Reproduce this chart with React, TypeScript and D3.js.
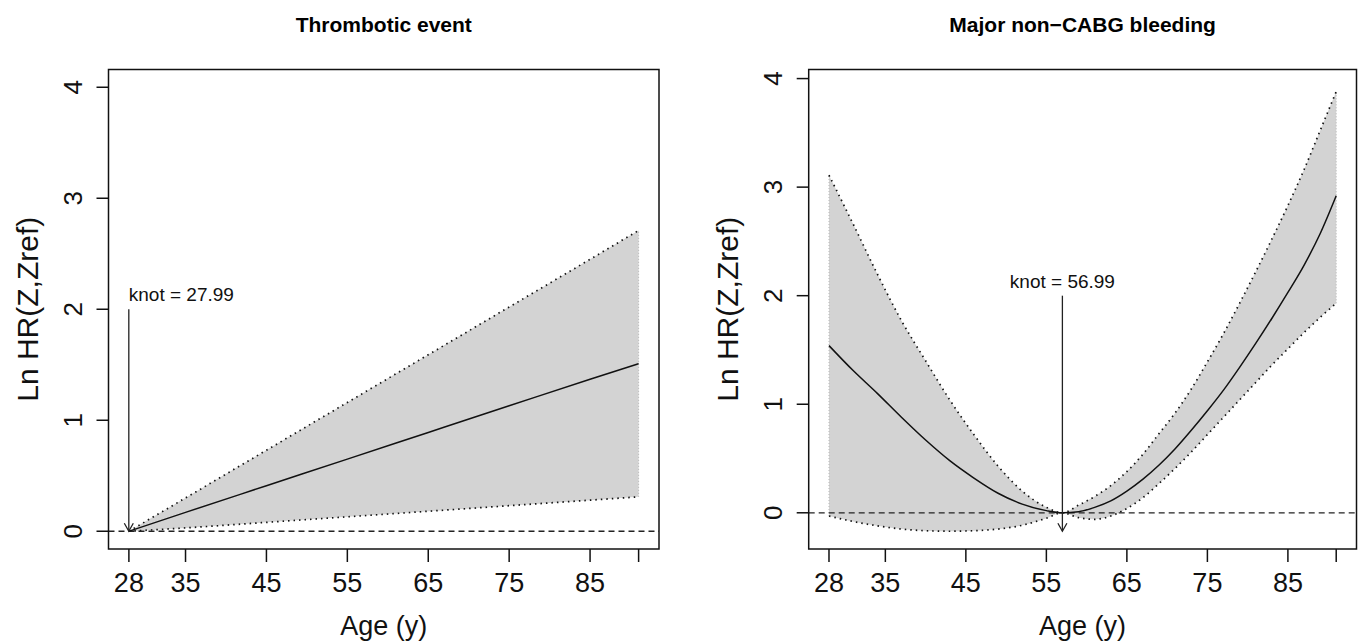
import React from 'react'
import * as d3 from 'd3'

// ---- data ----
const panelTitles = ['Thrombotic event', 'Major non\u2212CABG bleeding']
const knots = [27.99, 56.99]
const yLimits: Array<[number, number]> = [
  [0, 4],
  [-0.17, 3.92],
]

const xTicks = [28, 35, 45, 55, 65, 75, 85, 91]
const xTickLabels = ['28', '35', '45', '55', '65', '75', '85', '']
const yTicks = [0, 1, 2, 3, 4]
const yTickLabels = ['0', '1', '2', '3', '4']

// thrombotic event (linear spline)
const thrombAge = [28, 35, 45, 55, 65, 75, 85, 91]
const thrombMean = [0, 0.17, 0.41, 0.65, 0.89, 1.13, 1.37, 1.51]
const thrombUpper = [0, 0.3, 0.73, 1.16, 1.59, 2.02, 2.45, 2.71]
const thrombLower = [0, 0.03, 0.08, 0.13, 0.18, 0.23, 0.28, 0.31]

// major non-CABG bleeding
const bleedAge = [28, 31, 34, 37, 40, 43, 46, 49, 52, 55, 57, 59, 61, 63, 65, 67, 69, 71, 73, 75, 77, 79, 81, 83, 85, 87, 89, 91]
const bleedMean = [1.54, 1.31, 1.1, 0.88, 0.67, 0.48, 0.32, 0.18, 0.08, 0.02, 0, 0.01, 0.05, 0.11, 0.2, 0.31, 0.44, 0.59, 0.76, 0.94, 1.13, 1.34, 1.56, 1.79, 2.03, 2.28, 2.57, 2.92]
const bleedUpper = [3.11, 2.66, 2.2, 1.77, 1.4, 1.04, 0.72, 0.43, 0.2, 0.05, 0, 0.07, 0.15, 0.25, 0.38, 0.54, 0.73, 0.92, 1.14, 1.39, 1.65, 1.93, 2.22, 2.52, 2.83, 3.16, 3.52, 3.88]
const bleedLower = [-0.03, -0.08, -0.12, -0.15, -0.165, -0.17, -0.165, -0.15, -0.115, -0.05, 0, -0.045, -0.06, -0.03, 0.04, 0.14, 0.27, 0.41, 0.56, 0.72, 0.88, 1.04, 1.2, 1.36, 1.51, 1.66, 1.8, 1.93]

const panels = [
  { age: thrombAge, mean: thrombMean, upper: thrombUpper, lower: thrombLower },
  { age: bleedAge, mean: bleedMean, upper: bleedUpper, lower: bleedLower },
]

// ---- layout ----
const W = 1359
const H = 642
const boxes = [
  { x0: 108.5, x1: 659 },
  { x0: 808.7, x1: 1356.5 },
]
const boxTop = 69.5
const boxBottom = 549
const FONT = 'Liberation Sans, Arial, Helvetica, sans-serif'

const pad = (lo: number, hi: number): [number, number] => {
  const r = hi - lo
  return [lo - 0.04 * r, hi + 0.04 * r]
}

const Panel: React.FC<{ i: number }> = ({ i }) => {
  const p = panels[i]
  const { x0, x1 } = boxes[i]
  const ageExt = d3.extent(p.age) as [number, number]
  const x = d3.scaleLinear().domain(pad(ageExt[0], ageExt[1])).range([x0, x1])
  const [ylo, yhi] = yLimits[i]
  const y = d3.scaleLinear().domain(pad(ylo, yhi)).range([boxBottom, boxTop])

  const idx = p.age.map((_, k) => k)
  const curve = d3.curveMonotoneX
  const area = d3
    .area<number>()
    .x((k) => x(p.age[k]))
    .y0((k) => y(p.lower[k]))
    .y1((k) => y(p.upper[k]))
    .curve(curve)
  const lineOf = (vals: number[]) =>
    d3
      .line<number>()
      .x((k) => x(p.age[k]))
      .y((k) => y(vals[k]))
      .curve(curve)(idx) as string

  const first = 0
  const last = p.age.length - 1
  const cx = (x0 + x1) / 2
  const cy = (boxTop + boxBottom) / 2

  const kx = x(knots[i])
  const kTop = y(2)
  const kBottom = y(ylo)
  const knotLabel = `knot = ${knots[i].toFixed(2)}`
  const knotAnchor = kx - 53 < x0 ? 'start' : 'middle'

  return (
    <g>
      <text x={cx} y={32} textAnchor="middle" fontFamily={FONT} fontWeight="bold" fontSize={21}>
        {panelTitles[i]}
      </text>

      <defs>
        <clipPath id={`clip-${i}`}>
          <rect x={x0} y={boxTop} width={x1 - x0} height={boxBottom - boxTop} />
        </clipPath>
      </defs>

      <g clipPath={`url(#clip-${i})`}>
        <path d={area(idx) as string} fill="#d3d3d3" stroke="none" />
        {/* polygon side edges */}
        {[first, last].map((k) => (
          <line
            key={k}
            x1={x(p.age[k])}
            x2={x(p.age[k])}
            y1={y(p.lower[k])}
            y2={y(p.upper[k])}
            stroke="#b5b5b5"
            strokeWidth={1}
            strokeDasharray="1 2"
          />
        ))}
        <path d={lineOf(p.upper)} fill="none" stroke="#111" strokeWidth={1.7} strokeDasharray="1.5 4" />
        <path d={lineOf(p.lower)} fill="none" stroke="#111" strokeWidth={1.7} strokeDasharray="1.5 4" />
        <line x1={x0} x2={x1} y1={y(0)} y2={y(0)} stroke="#222" strokeWidth={1.3} strokeDasharray="6 4" />
        <path d={lineOf(p.mean)} fill="none" stroke="#111" strokeWidth={1.5} />
      </g>

      {/* knot arrow */}
      <line x1={kx} x2={kx} y1={kTop} y2={kBottom} stroke="#222" strokeWidth={1.3} />
      <path
        d={`M${kx - 4.5},${kBottom - 8}L${kx},${kBottom}L${kx + 4.5},${kBottom - 8}`}
        fill="none"
        stroke="#222"
        strokeWidth={1.3}
      />
      <text x={kx} y={kTop - 8} textAnchor={knotAnchor} fontFamily={FONT} fontSize={19} fill="#111">
        {knotLabel}
      </text>

      {/* box */}
      <rect x={x0} y={boxTop} width={x1 - x0} height={boxBottom - boxTop} fill="none" stroke="#111" strokeWidth={1.5} />

      {/* x axis */}
      {xTicks.map((t, k) => (
        <g key={t}>
          <line x1={x(t)} x2={x(t)} y1={boxBottom} y2={boxBottom + 13} stroke="#111" strokeWidth={1.5} />
          <text x={x(t)} y={592} textAnchor="middle" fontFamily={FONT} fontSize={27} fill="#111">
            {xTickLabels[k]}
          </text>
        </g>
      ))}
      <text x={cx} y={635} textAnchor="middle" fontFamily={FONT} fontSize={27} fill="#111">
        Age (y)
      </text>

      {/* y axis */}
      {yTicks.map((t, k) => (
        <g key={t}>
          <line x1={x0 - 12} x2={x0} y1={y(t)} y2={y(t)} stroke="#111" strokeWidth={1.5} />
          <text
            transform={`translate(${x0 - 27},${y(t)}) rotate(-90)`}
            textAnchor="middle"
            fontFamily={FONT}
            fontSize={26}
            fill="#111"
          >
            {yTickLabels[k]}
          </text>
        </g>
      ))}
      <text
        transform={`translate(${x0 - 70.5},${cy}) rotate(-90)`}
        textAnchor="middle"
        fontFamily={FONT}
        fontSize={30}
        fill="#111"
      >
        Ln HR(Z,Zref)
      </text>
    </g>
  )
}

export default function App() {
  return (
    <svg
      width={W}
      height={H}
      style={{ position: 'absolute', left: 0, top: 0, background: '#fff' }}
    >
      <rect width={W} height={H} fill="#fff" />
      <Panel i={0} />
      <Panel i={1} />
    </svg>
  )
}
